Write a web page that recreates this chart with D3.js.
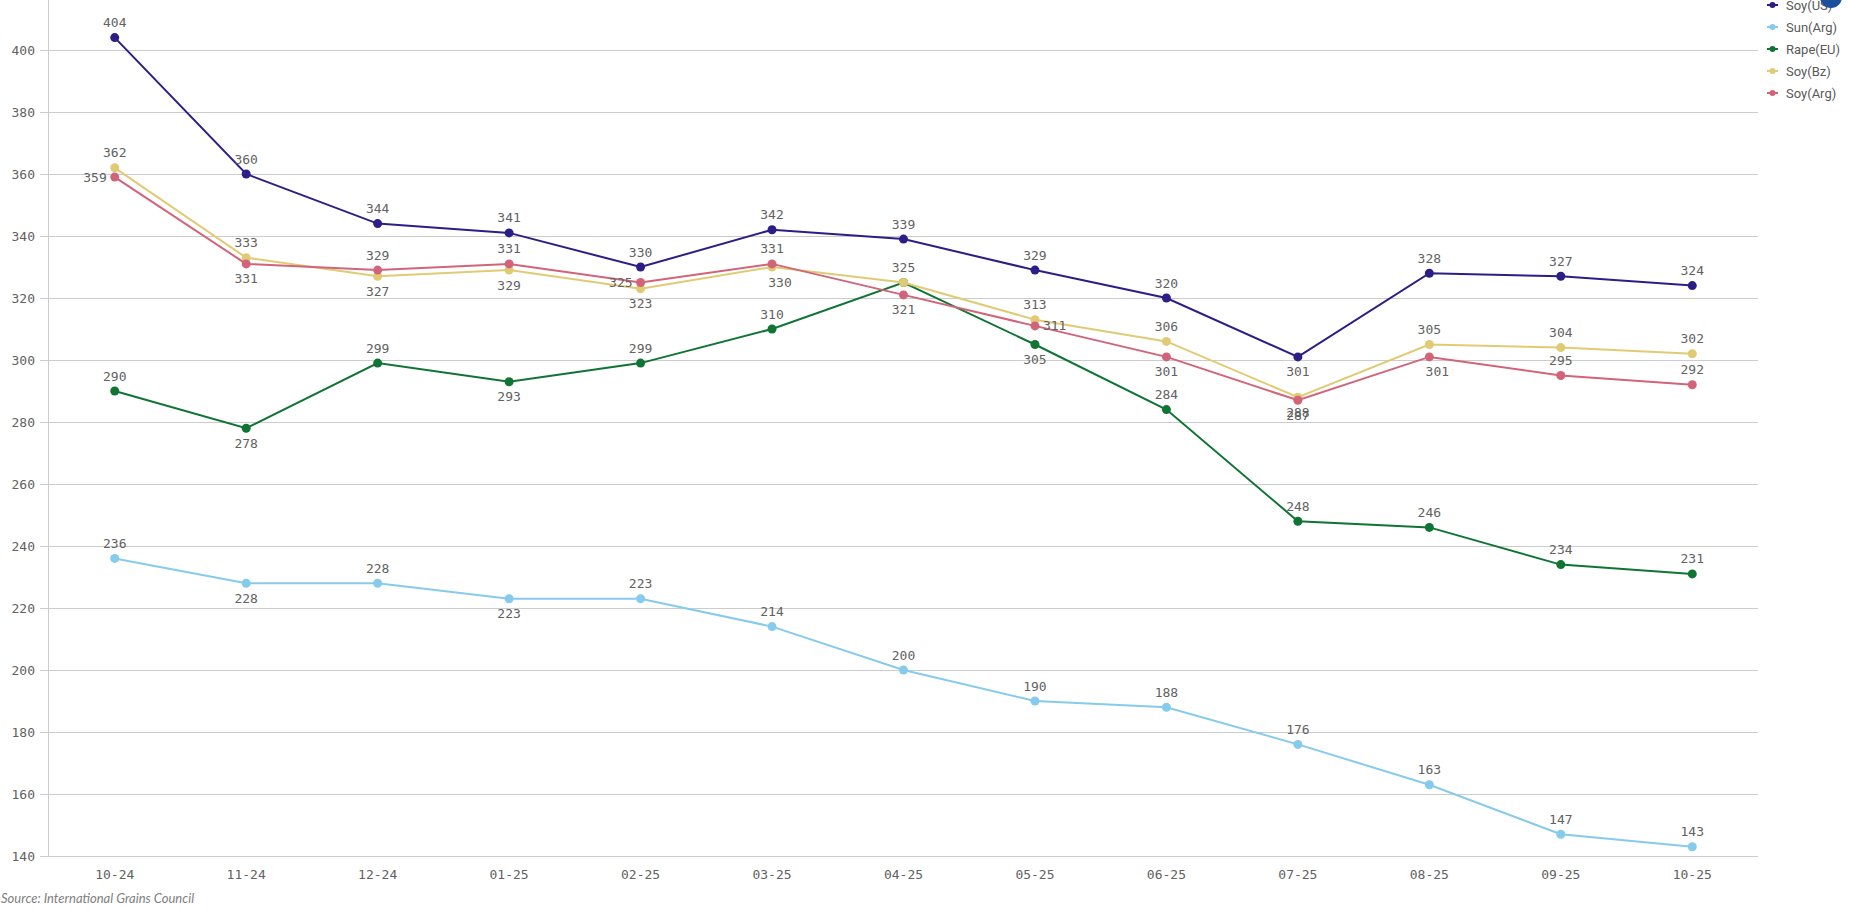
<!DOCTYPE html>
<html>
<head>
<meta charset="utf-8">
<script src="https://cdn.jsdelivr.net/npm/d3@7"></script>
<style>
  body { margin: 0; background: #fff; }
  svg { display: block; }
  .tick-label, .point-label { font-family: "DejaVu Sans Mono", monospace; font-size: 13px; fill: #626262; }
  .legend-text { font-family: Roboto, "Noto Sans", sans-serif; font-size: 13px; fill: #595959; }
  .source { font-family: Lato, "Open Sans", sans-serif; font-style: italic; font-size: 13px; fill: #808080; }
</style>
</head>
<body>
<svg id="chart"></svg>
<script>
// months on the x axis
const months = ["10-24", "11-24", "12-24", "01-25", "02-25", "03-25", "04-25", "05-25", "06-25", "07-25", "08-25", "09-25", "10-25"];
const yTicks = [140, 160, 180, 200, 220, 240, 260, 280, 300, 320, 340, 360, 380, 400];

const seriesNames = ["Soy(US)", "Sun(Arg)", "Rape(EU)", "Soy(Bz)", "Soy(Arg)"];
const soyUS   = [404, 360, 344, 341, 330, 342, 339, 329, 320, 301, 328, 327, 324];
const sunArg  = [236, 228, 228, 223, 223, 214, 200, 190, 188, 176, 163, 147, 143];
const rapeEU  = [290, 278, 299, 293, 299, 310, 325, 305, 284, 248, 246, 234, 231];
const soyBz   = [362, 333, 327, 329, 323, 330, 325, 313, 306, 288, 305, 304, 302];
const soyArg  = [359, 331, 329, 331, 325, 331, 321, 311, 301, 287, 301, 295, 292];

// where each value label sits: a = above, b = below, l = left, r = right, br = below, nudged right, n = hidden (overlaps another)
const labelSide = {
  "Soy(US)":  ["a","a","a","a","a","a","a","a","a","b","a","a","a"],
  "Sun(Arg)": ["a","b","a","b","a","a","a","a","a","a","a","a","a"],
  "Rape(EU)": ["a","b","a","b","a","a","n","b","a","a","a","a","a"],
  "Soy(Bz)":  ["a","a","b","b","b","br","a","a","a","b","a","a","a"],
  "Soy(Arg)": ["l","b","a","a","l","a","b","r","b","b","br","a","a"]
};
const colors = ["#2c1e87", "#86cbec", "#0f7434", "#e0cb74", "#d2647a"];

const W = 1851, H = 910;
const svg = d3.select("#chart").attr("width", W).attr("height", H);

const x = d3.scaleBand().domain(months).range([49, 1758]);
const y = d3.scaleLinear().domain([140, 400]).range([856, 50]);
const cx = m => x(m) + x.bandwidth() / 2;

// gridlines
svg.append("g").selectAll("line").data(yTicks).join("line")
  .attr("x1", 40).attr("x2", x.range()[1])
  .attr("y1", d => y(d) + 0.5).attr("y2", d => y(d) + 0.5)
  .attr("stroke", "#cccccc").attr("stroke-width", 1);

// y axis line
svg.append("line")
  .attr("x1", 48.5).attr("x2", 48.5).attr("y1", 0).attr("y2", y(140))
  .attr("stroke", "#cccccc");

// y tick labels
svg.append("g").selectAll("text").data(yTicks).join("text")
  .attr("class", "tick-label")
  .attr("x", 35).attr("y", d => y(d))
  .attr("dy", "0.35em").attr("text-anchor", "end")
  .text(d => d);

// x tick labels
svg.append("g").selectAll("text").data(months).join("text")
  .attr("class", "tick-label")
  .attr("x", d => cx(d)).attr("y", 874)
  .attr("dy", "0.35em").attr("text-anchor", "middle")
  .text(d => d);

const allSeries = [soyUS, sunArg, rapeEU, soyBz, soyArg].map((vals, i) => ({
  name: seriesNames[i],
  color: colors[i],
  values: vals.map((v, j) => ({ month: months[j], value: v, side: labelSide[seriesNames[i]][j] }))
}));

const line = d3.line().x(d => cx(d.month)).y(d => y(d.value));

const groups = svg.append("g").selectAll("g").data(allSeries).join("g");

groups.append("path")
  .attr("d", d => line(d.values))
  .attr("fill", "none")
  .attr("stroke", d => d.color)
  .attr("stroke-width", 2);

groups.selectAll("circle").data(d => d.values.map(v => ({ ...v, color: d.color }))).join("circle")
  .attr("cx", d => cx(d.month)).attr("cy", d => y(d.value))
  .attr("r", 4.5).attr("fill", d => d.color);

// value labels drawn on top of everything
const labels = svg.append("g");
allSeries.forEach(s => {
  labels.selectAll(null).data(s.values.filter(d => d.side !== "n")).join("text")
    .attr("class", "point-label")
    .attr("x", d => {
      const px = cx(d.month);
      if (d.side === "l") return px - 8;
      if (d.side === "r") return px + 8;
      if (d.side === "br") return px + 8;
      return px;
    })
    .attr("y", d => {
      const py = y(d.value);
      if (d.side === "a") return py - 15;
      if (d.side === "b" || d.side === "br") return py + 15;
      return py;
    })
    .attr("dy", "0.35em")
    .attr("text-anchor", d => d.side === "l" ? "end" : d.side === "r" ? "start" : "middle")
    .text(d => d.value);
});

// legend
const legend = svg.append("g").attr("transform", "translate(1767,5)");
const items = legend.selectAll("g").data(allSeries).join("g")
  .attr("transform", (d, i) => `translate(0,${i * 22})`);
items.append("line").attr("x1", 0).attr("x2", 11).attr("y1", 0).attr("y2", 0)
  .attr("stroke", d => d.color).attr("stroke-width", 2);
items.append("circle").attr("cx", 5.5).attr("cy", 0).attr("r", 3).attr("fill", d => d.color);
items.append("text").attr("class", "legend-text")
  .attr("x", 19).attr("y", 0).attr("dy", "0.35em")
  .text(d => d.name);

// scroll button peeking at the top right
svg.append("circle").attr("cx", 1831).attr("cy", -3).attr("r", 11).attr("fill", "#1c4f9c");

svg.append("text").attr("class", "source")
  .attr("x", 1).attr("y", 898).attr("dy", "0.35em")
  .text("Source: International Grains Council");
</script>
</body>
</html>
